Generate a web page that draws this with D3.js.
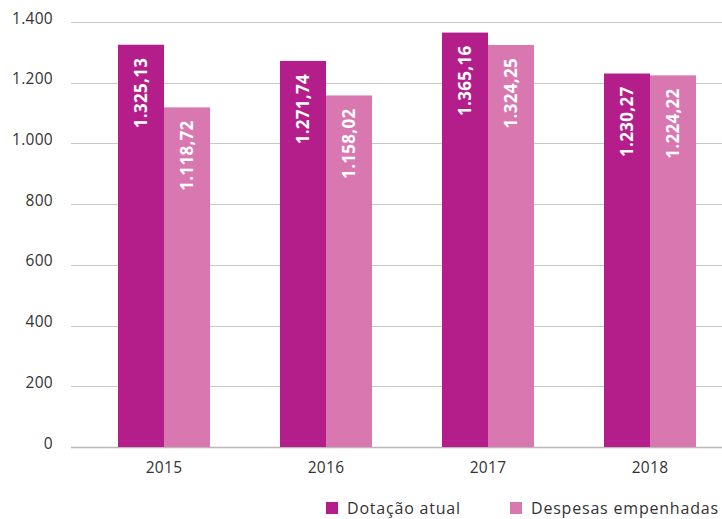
<!DOCTYPE html>
<html>
<head>
<meta charset="utf-8">
<script src="https://cdn.jsdelivr.net/npm/d3@7"></script>
<style>
  body { margin: 0; background: #fff; }
  svg { display: block; font-family: "Open Sans", "Lato", sans-serif; }
</style>
</head>
<body>
<svg id="chart" width="722" height="519"></svg>
<script>
var YEARS = ['2015', '2016', '2017', '2018'];
var DOTACAO = [1325.13, 1271.74, 1365.16, 1230.27];
var DESPESAS = [1118.72, 1158.02, 1324.25, 1224.22];
var Y_TICKS = [0, 200, 400, 600, 800, 1000, 1200, 1400];
var SERIES = ['Dotação atual', 'Despesas empenhadas'];
var COLORS = ['#b31e8b', '#d977b0'];

(function () {
    var svg = d3.select("#chart");
    var left = 71, right = 722, top = 22, bottom = 447;

    var x = d3.scaleBand().domain(YEARS).range([83, 731]);
    var y = d3.scaleLinear().domain([0, 1400]).range([bottom, top]);
    var barW = 46;

    var ptBR = d3.formatLocale({decimal: ",", thousands: ".", grouping: [3], currency: ["R$", ""]});
    var fmtTick = ptBR.format(",.0f");
    var fmtVal = ptBR.format(",.2f");

    // grid
    svg.append("g").selectAll("line")
        .data(Y_TICKS)
        .enter().append("line")
        .attr("x1", left).attr("x2", right)
        .attr("y1", function (d) { return Math.round(y(d)) + 0.5; })
        .attr("y2", function (d) { return Math.round(y(d)) + 0.5; })
        .attr("stroke", function (d) { return d === 0 ? "#bdb8b8" : "#cdc8c8"; })
        .attr("stroke-width", function (d) { return d === 0 ? 1.5 : 1.2; });

    svg.append("g").selectAll("text")
        .data(Y_TICKS)
        .enter().append("text")
        .attr("x", 53)
        .attr("y", function (d) { return y(d); })
        .attr("dy", "0.1em")
        .attr("text-anchor", "end")
        .attr("font-size", 15.5)
        .attr("letter-spacing", 0.3)
        .attr("fill", "#333")
        .text(function (d) { return fmtTick(d); });

    var series = [DOTACAO, DESPESAS];
    for (var i = 0; i < series.length; i++) {
        (function (s) {
            var vals = series[s];
            var g = svg.append("g");
            g.selectAll("rect")
                .data(YEARS)
                .enter().append("rect")
                .attr("x", function (d) { return x(d) + x.bandwidth() / 2 - barW + s * barW; })
                .attr("y", function (d, j) { return y(vals[j]); })
                .attr("width", barW)
                .attr("height", function (d, j) { return bottom - y(vals[j]); })
                .attr("fill", COLORS[s]);
            g.selectAll("text")
                .data(YEARS)
                .enter().append("text")
                .attr("transform", function (d, j) {
                    var cx = x(d) + x.bandwidth() / 2 - barW / 2 + s * barW;
                    return "translate(" + (cx + 6) + "," + (y(vals[j]) + 13) + ") rotate(-90)";
                })
                .attr("text-anchor", "end")
                .attr("font-size", 17)
                .attr("font-weight", "bold")
                .attr("letter-spacing", 0.3)
                .attr("fill", "#fff")
                .text(function (d, j) { return fmtVal(vals[j]); });
        })(i);
    }

    // x labels
    svg.append("g").selectAll("text")
        .data(YEARS)
        .enter().append("text")
        .attr("x", function (d) { return x(d) + x.bandwidth() / 2; })
        .attr("y", 473)
        .attr("text-anchor", "middle")
        .attr("font-size", 15.5)
        .attr("letter-spacing", 0.3)
        .attr("fill", "#333")
        .text(function (d) { return d; });

    // legend
    var legX = [326, 510];
    var leg = svg.append("g").selectAll("g")
        .data(SERIES)
        .enter().append("g")
        .attr("transform", function (d, i) { return "translate(" + legX[i] + ",502)"; });
    leg.append("rect").attr("width", 12).attr("height", 12).attr("fill", function (d, i) { return COLORS[i]; });
    leg.append("text").attr("x", 21).attr("y", 11.5).attr("font-size", 16).attr("letter-spacing", 0.8).attr("fill", "#333")
        .text(function (d) { return d; });
})();
</script>
</body>
</html>
